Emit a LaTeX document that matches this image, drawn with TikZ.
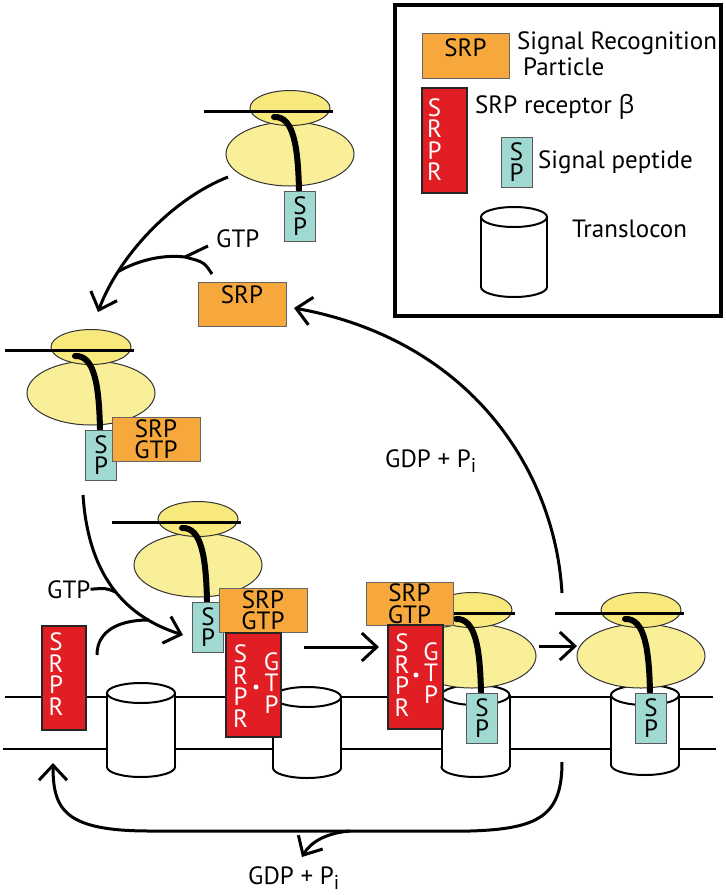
\documentclass[tikz,border=0pt]{standalone}
\usepackage{fontspec}
\setmainfont{PT Sans}
\newfontfamily\greekfont{Open Sans}
\usepackage{tikz}
\usetikzlibrary{arrows.meta}
\usetikzlibrary{shapes}
\usetikzlibrary{calc}

\definecolor{srporange}{RGB}{247,168,60}
\definecolor{srprred}{RGB}{226,30,37}
\definecolor{spteal}{RGB}{160,216,210}
\definecolor{riboyellow}{RGB}{248,239,152}
\definecolor{riboyellowtop}{RGB}{248,233,125}

\begin{document}
\begin{tikzpicture}[x=1pt,y=-1pt,
			every node/.style={font=\fontsize{25}{21.5}\selectfont, inner sep=0pt},
			srpbox/.style={draw=black!60, line width=1pt, fill=srporange, minimum width=88pt, minimum height=44pt, align=center},
			srprbox/.style={draw=black!85, line width=1.5pt, fill=srprred, minimum width=55pt, minimum height=104pt},
			spbox/.style={draw=black!65, line width=1pt, fill=spteal, minimum width=31pt, minimum height=50pt, align=center},
			bigsub/.style={ellipse, draw=black!80, line width=1pt, fill=riboyellow, minimum width=128pt, minimum height=64pt},
			smallsub/.style={ellipse, draw=black!80, line width=1pt, fill=riboyellowtop, minimum width=80pt, minimum height=35pt},
			whitetxt/.style={text=white, align=center},
			mrna/.style={line width=3pt},
			chain/.style={line width=6pt, line cap=round},
			membrane/.style={line width=2pt},
			tube/.style={line width=2pt},
			link/.style={line width=3pt},
			react/.style={line width=3pt, -{Straight Barb[length=15pt,width=28pt]}}]
			\useasboundingbox (0,0) rectangle (726,895);
			
			% legend
			\node[draw, line width=4pt, minimum width=326pt, minimum height=311pt] (legend) at (558,160.5) {};
			\node[srpbox, minimum width=87pt, minimum height=45pt, label={[yshift=8pt]center:SRP}] (keysrp) at (465.5,55.5) {};
			\node[anchor=base west] (keysrptxt) at (517,49) {Signal Recognition};
			\node[anchor=base west] (keyparttxt) at (523,75) {Particle};
			\node[srprbox, minimum width=45pt, minimum height=105pt] (keysrpr) at (444.5,140.5) {};
			\node[whitetxt] (keysrprtxt) at ($(keysrpr.center)+(-10,-1)$) {S\\R\\P\\R};
			\node[anchor=base west] (keyrecept) at (475,113) {SRP receptor {\greekfont β}};
			\node[spbox] (keysp) at (516.5,162) {S\\P};
			\node[anchor=base west] (keysptxt) at (538,168) {Signal peptide};
			\node[anchor=base west] (keytltxt) at (572,237) {Translocon};
			
			% membrane and translocons
			\draw[membrane] (5,697) -- (713,697);
			\draw[membrane] (3,749) -- (716,749);
			\foreach \cx/\ty/\by/\rx in {141/693/767/34, 307/697/768/34, 475.5/695/767/34, 645/695/765/34, 514/217/287/33} {
				\filldraw[tube, fill=white] (\cx,\by) ellipse [x radius=\rx, y radius=10];
				\fill[white] ({\cx-\rx},\ty) rectangle ({\cx+\rx},\by);
				\draw[tube] ({\cx-\rx},\ty) -- ({\cx-\rx},\by) ({\cx+\rx},\ty) -- ({\cx+\rx},\by);
				\filldraw[tube, fill=white] (\cx,\ty) ellipse [x radius=\rx, y radius=10];
			}
			\node[srprbox, minimum width=44pt] (srpr0) at (64,678) {};
			\node[whitetxt] (srpr0txt) at ($(srpr0.center)+(-8,-4)$) {S\\R\\P\\R};
			
			% ribosomes
			\foreach \n/\cx/\cy in {1/290/108, 2/91/347, 3/198/519, 4/472/610, 5/641/610} {
				\node[bigsub] (big\n) at (\cx,{\cy+46}) {};
				\node[smallsub] (small\n) at (\cx,\cy) {};
				\draw[mrna] ({\cx-86},{\cy+3}) -- ({\cx+43},{\cy+3});
				\draw[chain] ({\cx-16},{\cy+9}) .. controls ({\cx+4},{\cy+8}) and ({\cx+8},{\cy+40}) .. ({\cx+9},{\cy+82});
				\node[spbox] (sp\n) at ({\cx+10},{\cy+108}) {S\\P};
			}
			
			% SRP
			\node[srpbox, label={[yshift=9pt]center:SRP}] (srp) at (242,304) {};
			\node[srpbox] (srp2) at (156,439) {SRP\\GTP};
			\node[srpbox] (srp3) at (263,610) {SRP\\GTP};
			\node[srprbox] (srpr3) at (253.5,685) {};
			\node[whitetxt] (srpr3a) at ($(srpr3.center)+(-13,1)$) {S\\R\\P\\R};
			\node[whitetxt] (srpr3b) at ($(srpr3.center)+(18,-2)$) {G\\T\\P};
			\fill[white] ($(srpr3.center)+(2.5,2)$) circle[radius=2.5pt];
			\node[srpbox, minimum width=87pt, minimum height=43pt] (srp4) at (409.5,603.5) {SRP\\GTP};
			\node[srprbox] (srpr4) at (415.5,677) {};
			\node[whitetxt] (srpr4a) at ($(srpr4.center)+(-13.5,-2)$) {S\\R\\P\\R};
			\node[whitetxt] (srpr4b) at ($(srpr4.center)+(15.5,-4)$) {G\\T\\P};
			\fill[white] ($(srpr4.center)+(0.5,-2)$) circle[radius=2.5pt];
			
			% labels
			\node[anchor=base west] (gtp1) at (216,247) {GTP};
			\node[anchor=base west] (gtp2) at (47,598) {GTP};
			\node[anchor=base west] (gdp1) at (385,467) {GDP + P\raisebox{-5pt}{\fontsize{20}{20}\selectfont i}};
			\node[anchor=base west] (gdp2) at (248,884) {GDP + P\raisebox{-5pt}{\fontsize{20}{20}\selectfont i}};
			
			% arrows
			\coordinate (r1out) at (228,177);
			\coordinate (r2in) at (98,312);
			\coordinate (fork) at (185,257);
			\draw[react] (r1out) .. controls (170,200) and (118,258) .. coordinate[pos=0.75] (m1) (r2in);
			\draw[link] (208,246) -- (fork) .. controls (160,254) and (135,262) .. (m1);
			\draw[link] (212,274) .. controls (204,262) .. (fork);
			
			\coordinate (r2out) at (83,495);
			\coordinate (r3in) at (183,635);
			\coordinate (srpr0out) at (97,655);
			\draw[react] (r2out) .. controls (88,570) and (120,615) .. coordinate[pos=0.55] (m2) coordinate[pos=0.8] (m3) (r3in);
			\draw[link] (gtp2.east) .. controls (106,588) .. (m2);
			\draw[link] (srpr0out) .. controls (97,630) and (120,620) .. (m3);
			
			\coordinate (r3out) at (304,647);
			\coordinate (r4in) at (379,647);
			\draw[react] (r3out) -- (r4in);
			\coordinate (r4out) at (539,646);
			\coordinate (r5in) at (577,646);
			\draw[react] (r4out) -- (r5in);
			
			\coordinate (upstart) at (562,593);
			\coordinate (srpin) at (294,308);
			\draw[react] (upstart) .. controls (555,470) and (470,340) .. (srpin);
			
			\coordinate (downstart) at (562,762);
			\coordinate (srpr0in) at (53,763);
			\coordinate (gdpout) at (302,857);
			\draw[react] (downstart) .. controls (562,815) and (540,829) .. (470,831) -- coordinate[pos=0.375] (m4) (150,831) .. controls (65,831) and (53,810) .. (srpr0in);
			\draw[react] (m4) .. controls (325,833) and (310,843) .. (gdpout);
		\end{tikzpicture}
\end{document}
